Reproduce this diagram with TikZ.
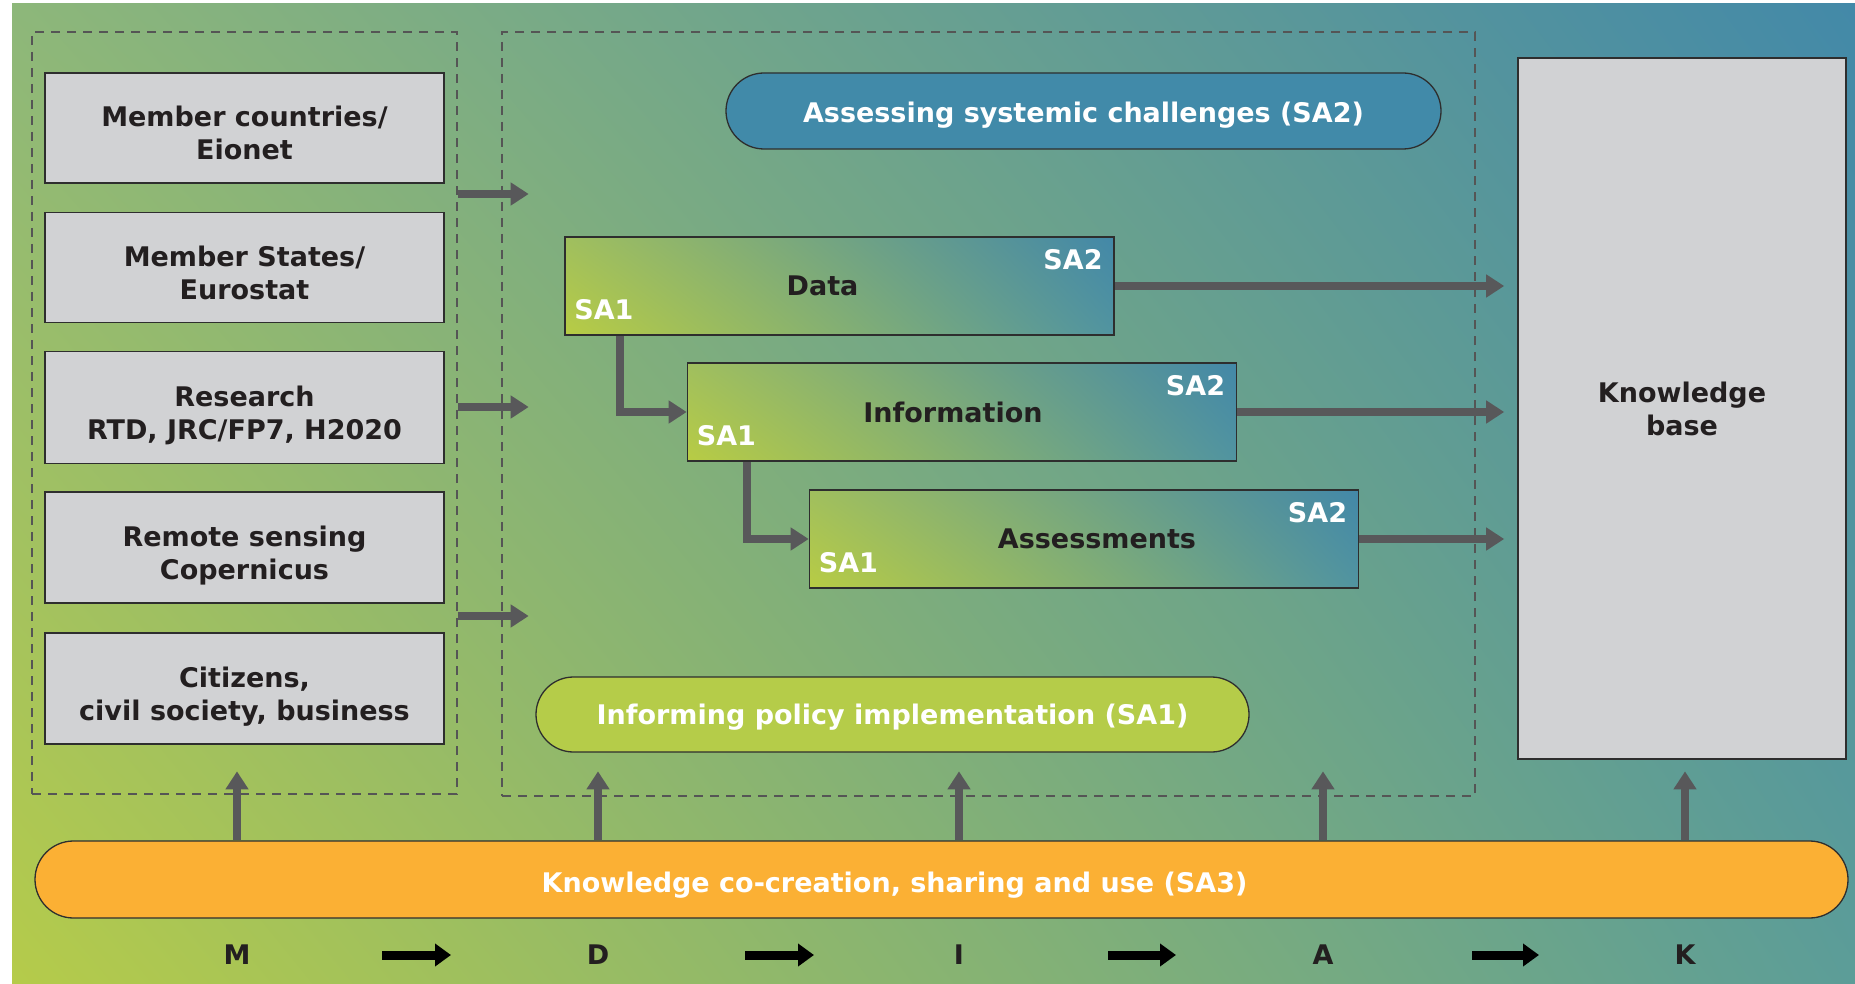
\documentclass[tikz,border=0pt]{standalone}
\usepackage{fontspec}
\setmainfont{DejaVu Sans}
\usetikzlibrary{arrows.meta,calc,shadings}
\definecolor{bgLL}{HTML}{B5CB4A}
\definecolor{bgUL}{HTML}{8DB77A}
\definecolor{bgUR}{HTML}{4389A8}
\definecolor{bgLR}{HTML}{5C9D98}
\definecolor{stLL}{HTML}{B8CC44}
\definecolor{stUL}{HTML}{A0BF5E}
\definecolor{stUR}{HTML}{4388A8}
\definecolor{stLR}{HTML}{5194A0}
\definecolor{boxgray}{HTML}{D1D2D4}
\definecolor{boxline}{HTML}{2E2E2E}
\definecolor{dashgray}{HTML}{555555}
\definecolor{arrowgray}{HTML}{58585A}
\definecolor{txtdark}{HTML}{231F20}
\definecolor{sabluefill}{HTML}{418AA9}
\definecolor{sagreenfill}{HTML}{B5CC49}
\definecolor{saorangefill}{HTML}{FBB034}
\begin{document}
\begin{tikzpicture}[x=1pt,y=-1pt,
  every node/.style={font=\fontsize{27}{33}\selectfont\bfseries},
  graybox/.style={draw=boxline, line width=1.6pt, fill=boxgray, text=txtdark, align=center, inner sep=0pt},
  srcnode/.style={graybox, minimum width=399pt, text height=69pt, text depth=5pt},
  dashbox/.style={draw=dashgray, line width=1.4pt, dash pattern=on 9pt off 7pt, inner sep=0pt},
  stagebox/.style={draw=boxline, line width=1.6pt, shade, lower left=stLL, upper left=stUL, upper right=stUR, lower right=stLR, minimum width=549pt, minimum height=98pt, text=txtdark, inner sep=0pt},
  pill/.style={draw=boxline, line width=1.3pt, inner sep=0pt, text=white},
  garrow/.style={draw=arrowgray, line width=8pt, -{Triangle[width=22pt,length=18pt]}},
  barrow/.style={draw=black, line width=9pt, -{Triangle[width=22pt,length=16pt]}},
  salbl/.style={text=white, inner sep=0pt},
  lettr/.style={text=txtdark, inner sep=0pt},
]
\fill[white] (0,0) rectangle (1855,984);
\shade[lower left=bgLL, upper left=bgUL, upper right=bgUR, lower right=bgLR] (12,4) rectangle (1855,984);
\useasboundingbox (0,0) rectangle (1855,984);

% dashed groups
\node[dashbox, minimum width=425pt, minimum height=762pt] (srcbox) at (244.5,413) {};
\node[dashbox, minimum width=973pt, minimum height=764pt] (midbox) at (988.5,414) {};

% sources
\node[srcnode, minimum height=110pt] (s1) at (244.5,128) {Member countries/\\Eionet};
\node[srcnode, minimum height=110pt] (s2) at (244.5,267.5) {Member States/\\Eurostat};
\node[srcnode, minimum height=112pt] (s3) at (244.5,407.5) {Research\\RTD, JRC/FP7, H2020};
\node[srcnode, minimum height=111pt] (s4) at (244.5,547.5) {Remote sensing\\Copernicus};
\node[srcnode, minimum height=111pt] (s5) at (244.5,688.5) {Citizens,\\civil society, business};

% knowledge base
\node[graybox, minimum width=328pt, minimum height=701pt] (kb) at (1682,408.5) {Knowledge\\base};

% pills
\node[pill, fill=sabluefill, minimum width=715pt, minimum height=76pt, rounded corners=38pt, text height=26pt, text depth=3.5pt] (sa2) at (1083.5,111) {Assessing systemic challenges (SA2)};
\node[pill, fill=sagreenfill, minimum width=713pt, minimum height=75pt, rounded corners=37.5pt, text height=23pt, text depth=3.5pt] (sa1) at (892.5,714.5) {Informing policy implementation (SA1)};
\node[pill, fill=saorangefill, minimum width=1813pt, minimum height=77pt, rounded corners=38.5pt] (sa3) at (941.5,879.5) {};
\node[text=white, inner sep=0pt] (sa3txt) at ([xshift=-47pt,yshift=-6pt]sa3.center) {Knowledge co-creation, sharing and use (SA3)};

% stages
\node[stagebox] (data) at (839.5,286) {Data\hspace{34pt}\null};
\node[stagebox] (info) at (962,412) {Information\hspace{18pt}\null};
\node[stagebox] (assess) at (1084,539) {\hspace{26pt}Assessments};

\node[salbl, anchor=north east] (d2) at ([xshift=-12pt,yshift=-13pt]data.north east) {SA2};
\node[salbl, anchor=base west] (d1) at ([xshift=10pt,yshift=16pt]data.south west) {SA1};
\node[salbl, anchor=north east] (i2) at ([xshift=-12pt,yshift=-13pt]info.north east) {SA2};
\node[salbl, anchor=base west] (i1) at ([xshift=10pt,yshift=16pt]info.south west) {SA1};
\node[salbl, anchor=north east] (a2) at ([xshift=-12pt,yshift=-13pt]assess.north east) {SA2};
\node[salbl, anchor=base west] (a1) at ([xshift=10pt,yshift=16pt]assess.south west) {SA1};

% arrows to knowledge base
\draw[garrow, shorten >=13pt] (data.east) -- (data.east -| kb.west);
\draw[garrow, shorten >=13pt] (info.east) -- (info.east -| kb.west);
\draw[garrow, shorten >=13pt] (assess.east) -- (assess.east -| kb.west);

% elbows
\draw[garrow] ([xshift=56pt]data.south west) |- (info.west);
\draw[garrow] ([xshift=60pt]info.south west) |- (assess.west);

% source group to middle group
\draw[garrow] (srcbox.east |- 0,194) -- ++(71,0);
\draw[garrow] (srcbox.east |- 0,407) -- ++(71,0);
\draw[garrow] (srcbox.east |- 0,616) -- ++(71,0);

% letters
\node[lettr] (lm) at (237,955) {M};
\node[lettr] (ld) at (598,955) {D};
\node[lettr] (li) at (959,955) {I};
\node[lettr] (la) at (1323,955) {A};
\node[lettr] (lk) at (1685,955) {K};

% up arrows
\draw[garrow] (sa3.north -| lm) -- ++(0,-69);
\draw[garrow] (sa3.north -| ld) -- ++(0,-69);
\draw[garrow] (sa3.north -| li) -- ++(0,-69);
\draw[garrow] (sa3.north -| la) -- ++(0,-69);
\draw[garrow] (sa3.north -| lk) -- ++(0,-69);

% MDIAK arrows
\draw[barrow, shorten <=145pt, shorten >=147pt] (lm.center) -- (ld.center);
\draw[barrow, shorten <=147pt, shorten >=145pt] (ld.center) -- (li.center);
\draw[barrow, shorten <=149pt, shorten >=147pt] (li.center) -- (la.center);
\draw[barrow, shorten <=149pt, shorten >=146pt] (la.center) -- (lk.center);
\end{tikzpicture}
\end{document}
